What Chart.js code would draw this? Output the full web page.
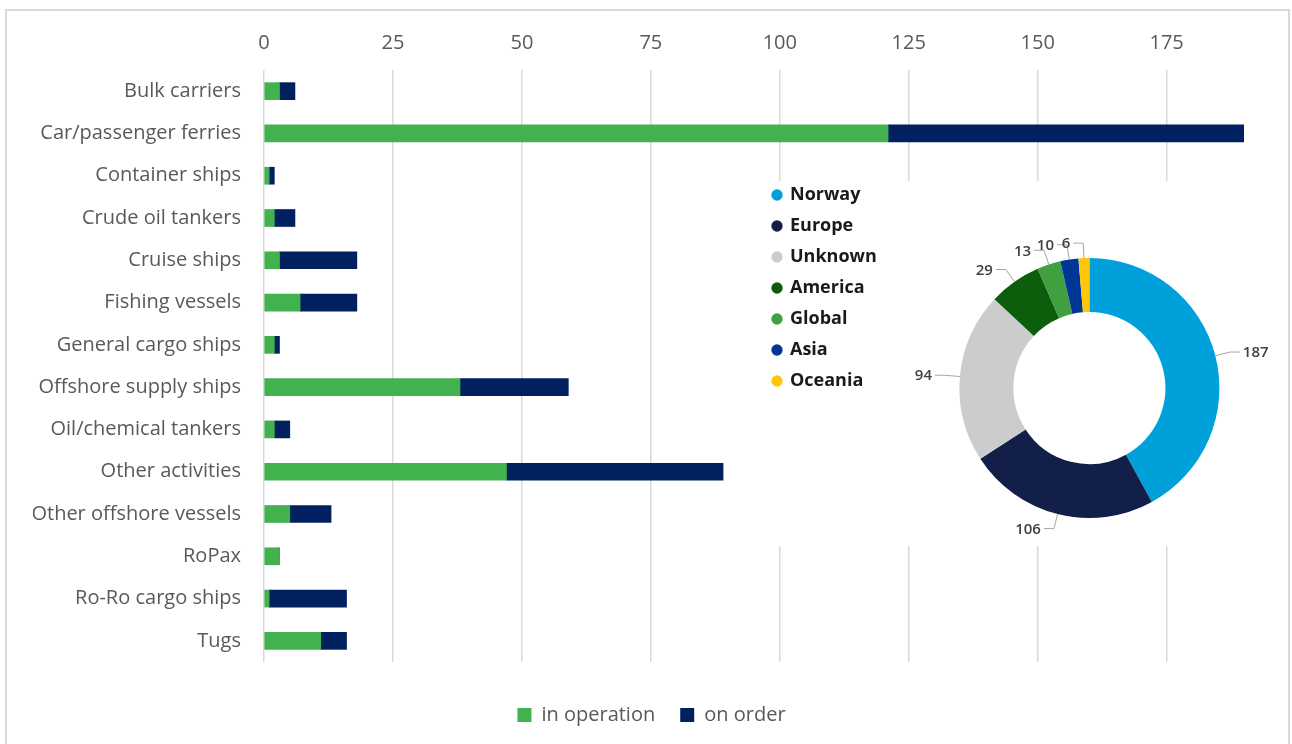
<!DOCTYPE html>
<html>
<head>
<meta charset="utf-8">
<script src="https://cdn.jsdelivr.net/npm/chart.js@4.4.1/dist/chart.umd.min.js"></script>
<style>
  html, body { margin: 0; padding: 0; background: #ffffff; }
  #wrap { position: relative; width: 1292px; height: 744px; overflow: hidden; background: #fff; }
  #barBox { position: absolute; left: 0; top: 0; width: 1292px; height: 744px; }
  #donutBox { position: absolute; left: 760px; top: 173px; width: 532px; height: 430px; }
  #frame { position: absolute; left: 5px; top: 9px; width: 1281px; height: 760px; border: 2px solid #d9d9d9; pointer-events: none; z-index: 5; }
</style>
</head>
<body>
<div id="wrap">
  <div id="barBox"><canvas id="bars"></canvas></div>
  <div id="donutBox"><canvas id="donut"></canvas></div>
  <div id="frame"></div>
</div>
<script>
// ---- data ----
const categories = [
  'Bulk carriers', 'Car/passenger ferries', 'Container ships', 'Crude oil tankers',
  'Cruise ships', 'Fishing vessels', 'General cargo ships', 'Offshore supply ships',
  'Oil/chemical tankers', 'Other activities', 'Other offshore vessels', 'RoPax',
  'Ro-Ro cargo ships', 'Tugs'
];
const inOperation = [3, 121, 1, 2, 3, 7, 2, 38, 2, 47, 5, 3, 1, 11];
const onOrder     = [3, 69, 1, 4, 15, 11, 1, 21, 3, 42, 8, 0, 15, 5];
const seriesNames = ['in operation', 'on order'];
const axisMax = 190;
const axisStep = 25;

const regions = ['Norway', 'Europe', 'Unknown', 'America', 'Global', 'Asia', 'Oceania'];
const regionCounts = [187, 106, 94, 29, 13, 10, 6];

// ---- styles ----
const GREEN = '#42b24f';
const NAVY = '#002060';
const regionColors = ['#00a0da', '#121f48', '#cccccc', '#0c5e0c', '#40a040', '#003797', '#ffc60a'];
const FONT = '"Open Sans", "Noto Sans", sans-serif';
const GREY_TEXT = '#595959';

Chart.defaults.font.family = FONT;
Chart.defaults.animation = false;

// ---- bar chart ----
const barChart = new Chart(document.getElementById('bars'), {
  type: 'bar',
  data: {
    labels: categories,
    datasets: [
      { label: seriesNames[0], data: inOperation, backgroundColor: GREEN, borderWidth: 0, barThickness: 17, yAxisID: 'y' },
      { label: seriesNames[1], data: onOrder, backgroundColor: NAVY, borderWidth: 0, barThickness: 17, yAxisID: 'y' }
    ]
  },
  options: {
    indexAxis: 'y',
    responsive: true,
    maintainAspectRatio: false,
    layout: { padding: { left: 33, right: 22, top: 20, bottom: 9 } },
    scales: {
      x: {
        position: 'top',
        stacked: true,
        min: 0,
        max: axisMax,
        ticks: { stepSize: axisStep, includeBounds: false, color: GREY_TEXT, font: { size: 20 }, padding: 15 },
        grid: { color: '#d9d9d9', lineWidth: 1.5, drawTicks: false },
        border: { display: false },
        afterFit: s => { s.height = 50; }
      },
      y: {
        stacked: true,
        ticks: { color: GREY_TEXT, font: { size: 20 }, padding: 23, autoSkip: false },
        grid: { display: false, drawTicks: false },
        border: { display: false },
        afterFit: s => { s.width = 231; }
      },
      y2: {
        type: 'category',
        position: 'right',
        display: true,
        ticks: { display: false },
        grid: { display: false, drawTicks: false },
        border: { display: false },
        afterFit: s => { s.width = 26; }
      }
    },
    plugins: {
      legend: {
        position: 'bottom',
        title: { display: true, text: '', font: { size: 10 }, padding: { top: 6, bottom: 0 } },
        labels: { boxWidth: 14, boxHeight: 14, padding: 25, color: GREY_TEXT, font: { size: 20 } }
      },
      tooltip: { enabled: false }
    }
  }
});

// ---- doughnut chart ----
const CX = 329.5; // desired centre inside donut canvas
const whiteBg = {
  id: 'whiteBg',
  beforeDraw(chart) {
    const c = chart.ctx;
    c.save();
    c.fillStyle = '#ffffff';
    c.fillRect(5, 8, 520, 365);
    c.restore();
  }
};
const outerLabels = {
  id: 'outerLabels',
  afterDatasetsDraw(chart) {
    const c = chart.ctx;
    const meta = chart.getDatasetMeta(0);
    const vals = chart.data.datasets[0].data;
    c.save();
    c.font = '600 15px ' + FONT;
    c.textBaseline = 'middle';
    meta.data.forEach((arc, i) => {
      const p = arc.getProps(['x', 'y', 'startAngle', 'endAngle', 'outerRadius'], true);
      const mid = (p.startAngle + p.endAngle) / 2;
      const ax = p.x + Math.cos(mid) * p.outerRadius;
      const ay = p.y + Math.sin(mid) * p.outerRadius;
      const lx = p.x + Math.cos(mid) * (p.outerRadius + 15);
      const ly = p.y + Math.sin(mid) * (p.outerRadius + 15);
      const dir = Math.cos(mid) >= 0 ? 1 : -1;
      c.strokeStyle = '#a6a6a6';
      c.lineWidth = 1;
      c.beginPath();
      c.moveTo(ax, ay);
      c.lineTo(lx, ly);
      c.lineTo(lx + dir * 10, ly);
      c.stroke();
      c.fillStyle = '#404040';
      c.textAlign = dir > 0 ? 'left' : 'right';
      c.fillText(String(vals[i]), lx + dir * 13, ly + 1);
    });
    c.restore();
  }
};

const donut = new Chart(document.getElementById('donut'), {
  type: 'doughnut',
  data: {
    labels: regions,
    datasets: [{ data: regionCounts, backgroundColor: regionColors, borderWidth: 0, radius: 130, cutout: '58.5%' }]
  },
  options: {
    responsive: true,
    maintainAspectRatio: false,
    layout: { padding: { left: 0, right: 0, top: 0, bottom: 0 } },
    plugins: {
      legend: {
        position: 'left',
        align: 'start',
        labels: {
          usePointStyle: true, pointStyle: 'circle', boxWidth: 8, boxHeight: 8,
          padding: 13, color: '#1a1a1a', font: { size: 18, weight: 'bold' }
        }
      },
      tooltip: { enabled: false }
    }
  },
  plugins: [whiteBg, outerLabels]
});
// centre the ring horizontally where the reference has it
const needRight = donut.legend.right + donut.width - 2 * CX;
donut.options.layout.padding.right = needRight;
donut.update();
</script>
</body>
</html>
